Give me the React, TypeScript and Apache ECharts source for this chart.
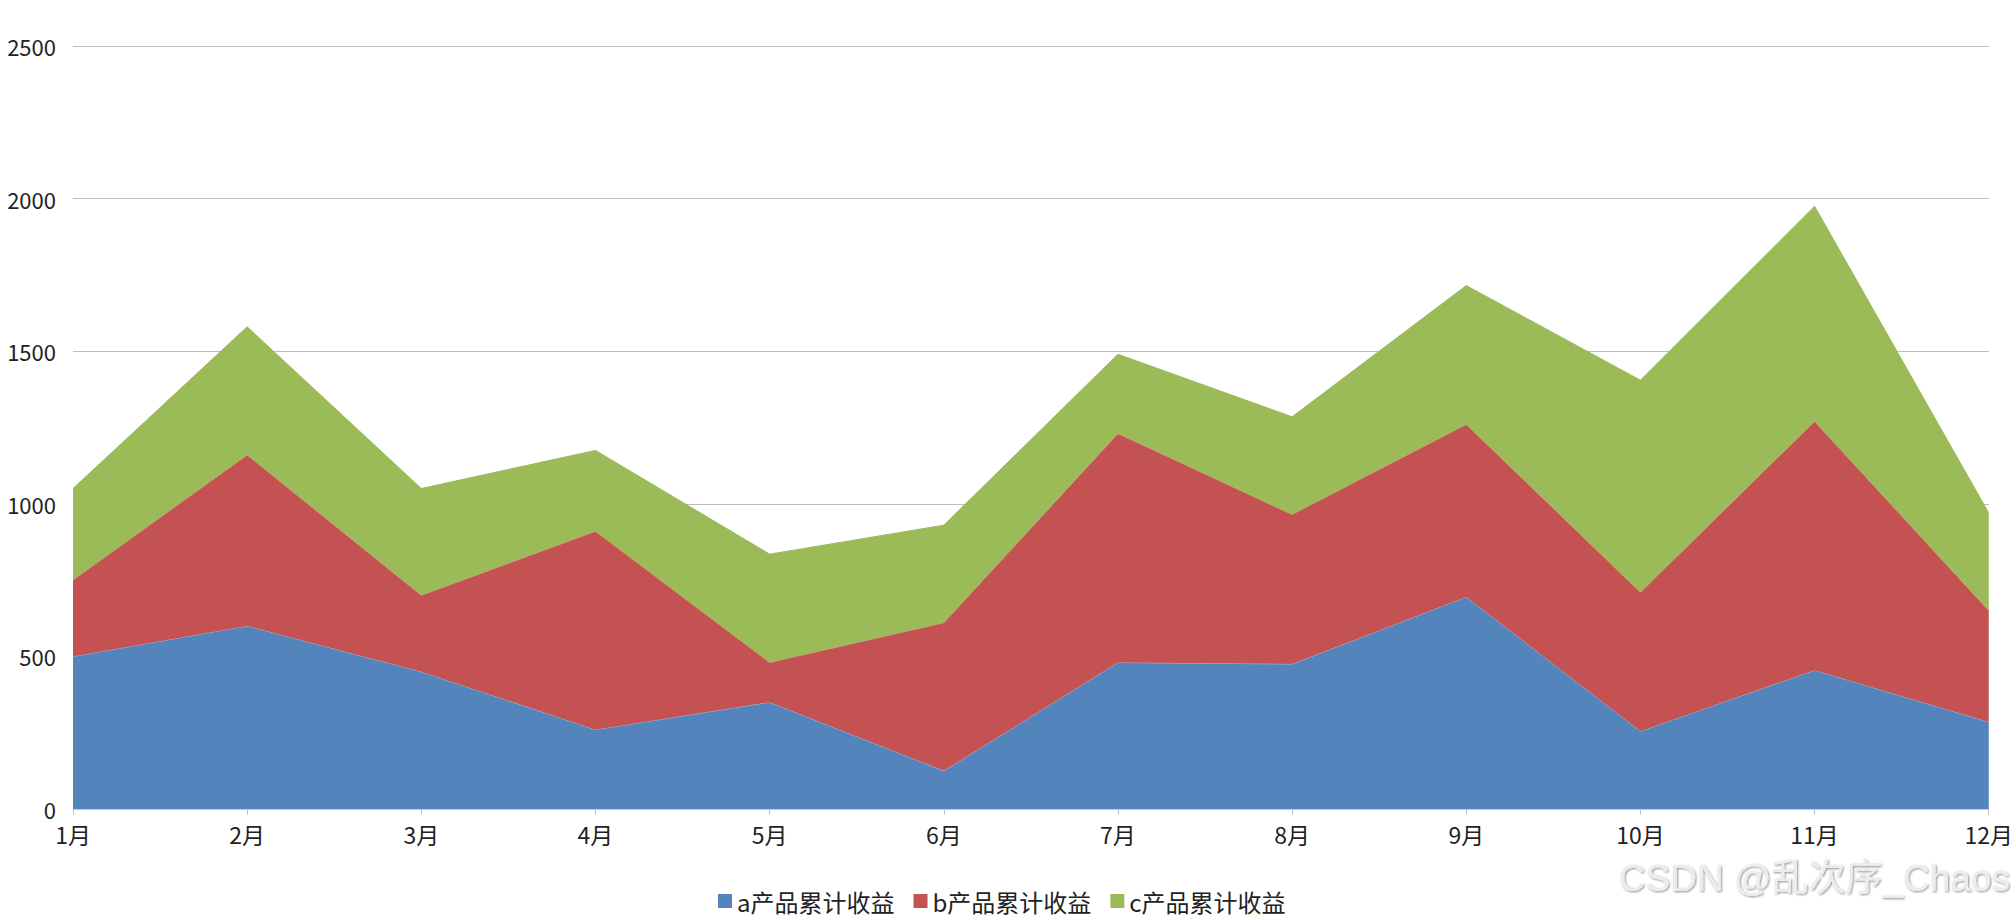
import React, { useEffect, useRef } from "react";
import * as echarts from "echarts";

const months = ["1月", "2月", "3月", "4月", "5月", "6月", "7月", "8月", "9月", "10月", "11月", "12月"];
const seriesNames = ["a产品累计收益", "b产品累计收益", "c产品累计收益"];
const aValues = [500, 600, 450, 260, 350, 125, 480, 475, 695, 255, 455, 285];
const bValues = [250, 560, 250, 650, 130, 485, 750, 490, 565, 455, 815, 365];
const cValues = [300, 420, 350, 265, 355, 320, 260, 320, 455, 695, 705, 320];
const colors = ["#5384bb", "#c45252", "#9bba58"];
const lineColors = ["#9dbbe0", "#e08080", "#9bba58"];
const watermark = "CSDN @乱次序_Chaos";

const FONT = "'Noto Sans CJK SC', 'Noto Sans', sans-serif";

export default function App() {
  const ref = useRef<HTMLDivElement>(null);
  useEffect(() => {
    if (!ref.current) return;
    const chart = echarts.init(ref.current, null, { renderer: "svg" });
    const all = [aValues, bValues, cValues];
    chart.setOption({
      animation: false,
      backgroundColor: "#ffffff",
      grid: { left: 73, right: 24, top: 46, bottom: 111, containLabel: false },
      legend: {
        data: seriesNames,
        left: 713,
        top: 882,
        icon: "rect",
        itemWidth: 14,
        itemHeight: 14,
        itemGap: 19,
        textStyle: { fontSize: 24, lineHeight: 28, color: "#222", fontFamily: FONT },
      },
      xAxis: {
        type: "category",
        data: months,
        boundaryGap: false,
        axisLine: { show: true, lineStyle: { color: "#c8c8c8", width: 1 } },
        axisTick: { show: true, alignWithLabel: true, length: 6, lineStyle: { color: "#c0c0c0" } },
        axisLabel: { fontSize: 23, color: "#222", margin: 13, fontFamily: FONT },
      },
      yAxis: {
        type: "value",
        min: 0,
        max: 2500,
        interval: 500,
        axisLine: { show: false },
        axisTick: { show: false },
        axisLabel: {
          fontSize: 22,
          color: "#222",
          margin: 17,
          fontFamily: FONT,
          formatter: (v: number) => String(v),
        },
        splitLine: { lineStyle: { color: "#bdbdbd", width: 1 } },
      },
      series: all.map((vals, i) => ({
        name: seriesNames[i],
        type: "line",
        stack: "total",
        data: vals,
        symbol: "none",
        lineStyle: { width: 1, color: lineColors[i] },
        itemStyle: { color: colors[i] },
        areaStyle: { color: colors[i], opacity: 1 },
        z: 2 + i,
      })),
      graphic: [
        {
          type: "text",
          right: 6,
          top: 860,
          z: 100,
          style: {
            text: watermark,
            fontSize: 37,
            fontFamily: "'Liberation Sans', 'Noto Sans CJK SC', sans-serif",
            fill: "#ececec",
            textShadowColor: "rgba(0,0,0,0.45)",
            textShadowBlur: 2,
            textShadowOffsetX: 1,
            textShadowOffsetY: 1,
          },
        },
      ],
    });
    return () => chart.dispose();
  }, []);
  return (
    <div
      ref={ref}
      style={{ position: "fixed", left: 0, top: 0, width: 2016, height: 920 }}
    />
  );
}
